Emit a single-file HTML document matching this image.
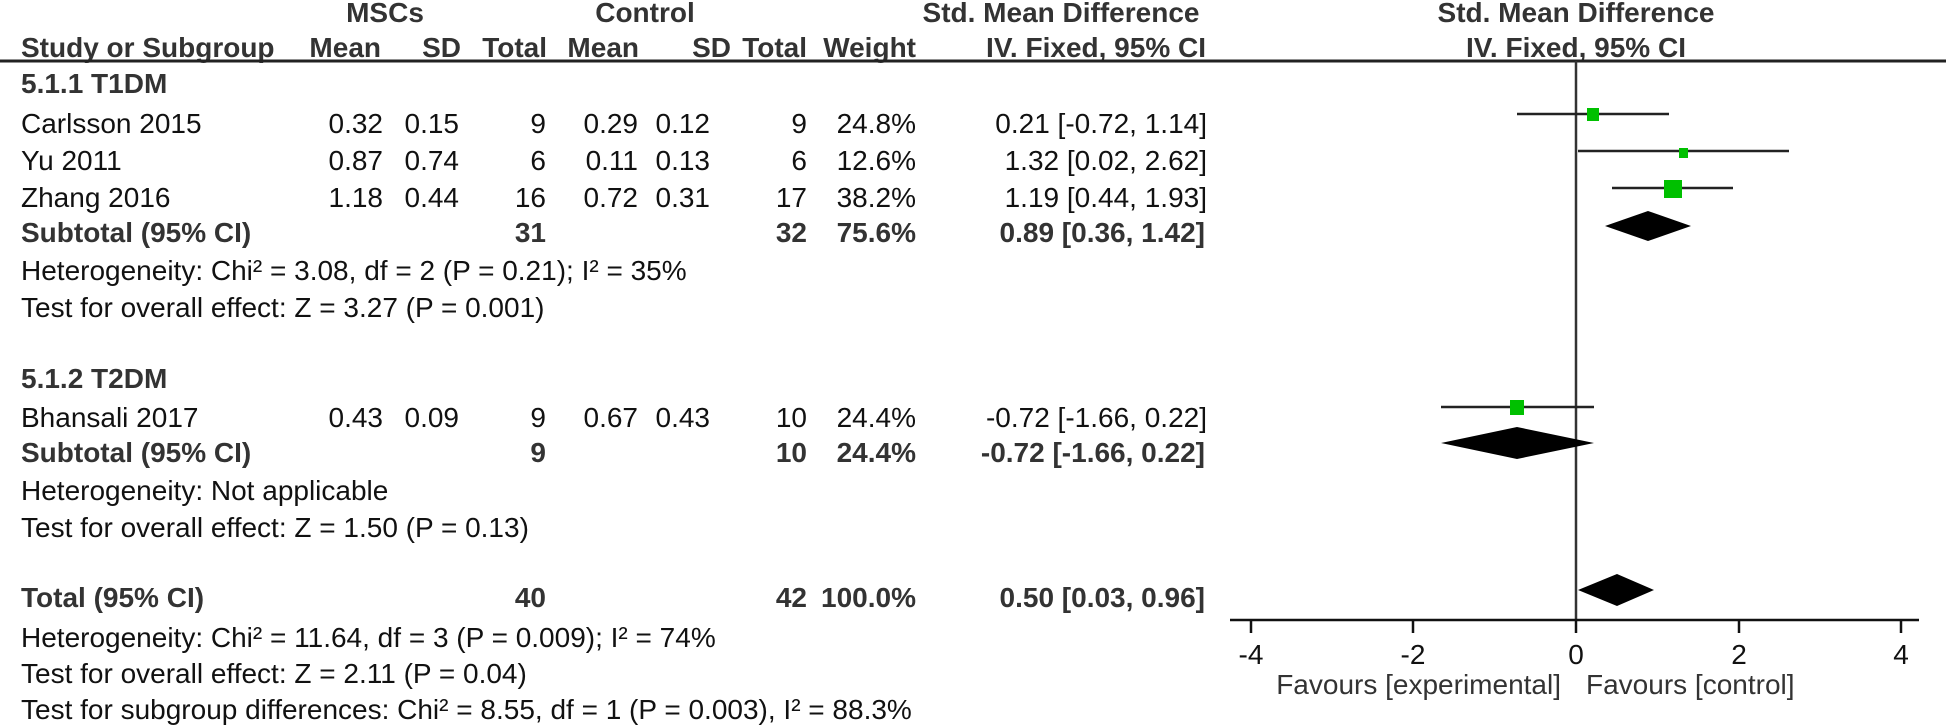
<!DOCTYPE html>
<html><head><meta charset="utf-8"><style>
html,body{margin:0;padding:0;background:#fff;}
svg{display:block;}
text{font-family:"Liberation Sans",Arial,sans-serif;font-size:28px;fill:#111;}
.b{font-weight:bold;fill:#333;}
.r{text-anchor:end;}
.c{text-anchor:middle;}
</style></head><body>
<svg width="1946" height="725" viewBox="0 0 1946 725" xmlns="http://www.w3.org/2000/svg">
<!-- headers -->
<text class="b c" x="385" y="22">MSCs</text>
<text class="b c" x="645" y="22">Control</text>
<text class="b c" x="1061" y="22">Std. Mean Difference</text>
<text class="b c" x="1576" y="22">Std. Mean Difference</text>
<text class="b" x="21" y="57">Study or Subgroup</text>
<text class="b r" x="381" y="57">Mean</text>
<text class="b r" x="461" y="57">SD</text>
<text class="b r" x="547" y="57">Total</text>
<text class="b r" x="639" y="57">Mean</text>
<text class="b r" x="731" y="57">SD</text>
<text class="b r" x="807" y="57">Total</text>
<text class="b r" x="916" y="57">Weight</text>
<text class="b r" x="1206" y="57">IV. Fixed, 95% CI</text>
<text class="b c" x="1576" y="57">IV. Fixed, 95% CI</text>
<line x1="0" y1="61" x2="1946" y2="61" stroke="#222" stroke-width="3"/>

<text class="b" x="21" y="93">5.1.1 T1DM</text>
<text x="21" y="133">Carlsson 2015</text><text class="r" x="383" y="133">0.32</text><text class="r" x="459" y="133">0.15</text><text class="r" x="546" y="133">9</text><text class="r" x="638" y="133">0.29</text><text class="r" x="710" y="133">0.12</text><text class="r" x="807" y="133">9</text><text class="r" x="916" y="133">24.8%</text><text class="r" x="1207" y="133">0.21 [-0.72, 1.14]</text>
<text x="21" y="170">Yu  2011</text><text class="r" x="383" y="170">0.87</text><text class="r" x="459" y="170">0.74</text><text class="r" x="546" y="170">6</text><text class="r" x="638" y="170">0.11</text><text class="r" x="710" y="170">0.13</text><text class="r" x="807" y="170">6</text><text class="r" x="916" y="170">12.6%</text><text class="r" x="1207" y="170">1.32 [0.02, 2.62]</text>
<text x="21" y="207">Zhang 2016</text><text class="r" x="383" y="207">1.18</text><text class="r" x="459" y="207">0.44</text><text class="r" x="546" y="207">16</text><text class="r" x="638" y="207">0.72</text><text class="r" x="710" y="207">0.31</text><text class="r" x="807" y="207">17</text><text class="r" x="916" y="207">38.2%</text><text class="r" x="1207" y="207">1.19 [0.44, 1.93]</text>
<text class="b" x="21" y="242">Subtotal (95% CI)</text><text class="b r" x="546" y="242">31</text><text class="b r" x="807" y="242">32</text><text class="b r" x="916" y="242">75.6%</text><text class="b r" x="1205" y="242">0.89 [0.36, 1.42]</text>
<text x="21" y="280">Heterogeneity: Chi² = 3.08, df = 2 (P = 0.21); I² = 35%</text>
<text x="21" y="317">Test for overall effect: Z = 3.27 (P = 0.001)</text>

<text class="b" x="21" y="388">5.1.2 T2DM</text>
<text x="21" y="427">Bhansali 2017</text><text class="r" x="383" y="427">0.43</text><text class="r" x="459" y="427">0.09</text><text class="r" x="546" y="427">9</text><text class="r" x="638" y="427">0.67</text><text class="r" x="710" y="427">0.43</text><text class="r" x="807" y="427">10</text><text class="r" x="916" y="427">24.4%</text><text class="r" x="1207" y="427">-0.72 [-1.66, 0.22]</text>
<text class="b" x="21" y="462">Subtotal (95% CI)</text><text class="b r" x="546" y="462">9</text><text class="b r" x="807" y="462">10</text><text class="b r" x="916" y="462">24.4%</text><text class="b r" x="1205" y="462">-0.72 [-1.66, 0.22]</text>
<text x="21" y="500">Heterogeneity: Not applicable</text>
<text x="21" y="537">Test for overall effect: Z = 1.50 (P = 0.13)</text>

<text class="b" x="21" y="607">Total (95% CI)</text><text class="b r" x="546" y="607">40</text><text class="b r" x="807" y="607">42</text><text class="b r" x="916" y="607">100.0%</text><text class="b r" x="1205" y="607">0.50 [0.03, 0.96]</text>
<text x="21" y="647">Heterogeneity: Chi² = 11.64, df = 3 (P = 0.009); I² = 74%</text>
<text x="21" y="683">Test for overall effect: Z = 2.11 (P = 0.04)</text>
<text x="21" y="719">Test for subgroup differences: Chi² = 8.55, df = 1 (P = 0.003), I² = 88.3%</text>

<!-- plot: x = 1576 + 81.3*v -->
<line x1="1576" y1="61" x2="1576" y2="620" stroke="#333" stroke-width="2.5"/>
<line x1="1230" y1="620" x2="1919" y2="620" stroke="#111" stroke-width="2.5"/>
<g stroke="#111" stroke-width="2.5">
<line x1="1251" y1="620" x2="1251" y2="633"/><line x1="1413" y1="620" x2="1413" y2="633"/><line x1="1576" y1="620" x2="1576" y2="633"/><line x1="1739" y1="620" x2="1739" y2="633"/><line x1="1901" y1="620" x2="1901" y2="633"/>
</g>
<text class="c" x="1251" y="664">-4</text><text class="c" x="1413" y="664">-2</text><text class="c" x="1576" y="664">0</text><text class="c" x="1739" y="664">2</text><text class="c" x="1901" y="664">4</text>
<text class="r" x="1561" y="694" style="fill:#333">Favours [experimental]</text>
<text x="1586" y="694" style="fill:#333">Favours [control]</text>

<g stroke="#222" stroke-width="2.5">
<line x1="1517" y1="114" x2="1669" y2="114"/>
<line x1="1578" y1="151" x2="1789" y2="151"/>
<line x1="1612" y1="188" x2="1733" y2="188"/>
<line x1="1441" y1="407" x2="1594" y2="407"/>
</g>
<g fill="#00c000">
<rect x="1587" y="108" width="12" height="13"/>
<rect x="1679" y="148" width="9" height="10"/>
<rect x="1664" y="180" width="18" height="18"/>
<rect x="1510" y="400" width="14" height="15"/>
</g>
<g fill="#000">
<polygon points="1605,226 1648,211 1691,226 1648,241"/>
<polygon points="1441,443 1517,427 1594,443 1517,459"/>
<polygon points="1578,590 1617,574 1654,590 1617,606"/>
</g>
</svg>
</body></html>
